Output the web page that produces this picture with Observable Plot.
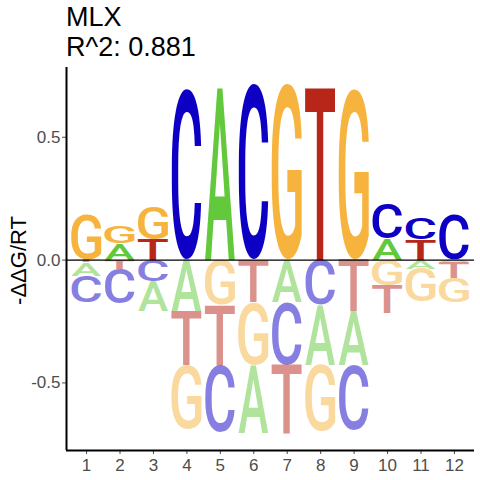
<!DOCTYPE html>
<html>
<head>
<meta charset="utf-8">
<script src="https://cdn.jsdelivr.net/npm/d3@7"></script>
<script src="https://cdn.jsdelivr.net/npm/@observablehq/plot@0.6"></script>
<style>
  html, body { margin: 0; padding: 0; background: #fff; }
  #title { height: 60px; box-sizing: border-box; padding-left: 66px; padding-top: 3.25px;
           font-family: "Liberation Sans", Arial, sans-serif; font-size: 27px; line-height: 29.4px; color: #000; white-space: nowrap; }
  #chart svg { display: block; }
</style>
</head>
<body>
<div id="title"></div>
<div id="chart"></div>
<script>
// ---- data ----
const positions = [1, 2, 3, 4, 5, 6, 7, 8, 9, 10, 11, 12];
const bases = ["A", "C", "G", "T"];
const valA = [-0.055,  0.066, -0.122, -0.210,  0.705, -0.278, -0.173, -0.244, -0.220,  0.088, -0.037, -0.010];
const valC = [-0.108, -0.142, -0.088,  0.691, -0.272,  0.711, -0.254, -0.183, -0.264,  0.142,  0.088,  0.180];
const valG = [ 0.180,  0.069,  0.133, -0.260, -0.183, -0.255,  0.711, -0.270,  0.691, -0.104, -0.135, -0.100];
const valT = [-0.010, -0.037,  0.084, -0.221, -0.245, -0.172, -0.280,  0.705, -0.210, -0.113,  0.081, -0.065];
const yTicks = [-0.5, 0, 0.5];
const titleLines = ["MLX", "R^2: 0.881"];
const yLabel = "-ΔΔG/RT";

const baseColors = {A: "#61C93B", C: "#0D00C4", G: "#F6B43F", T: "#B82619"};
const seriesByBase = {A: valA, C: valC, G: valG, T: valT};

// title
const titleEl = document.getElementById("title");
for (const line of titleLines) {
  const div = document.createElement("div");
  div.textContent = line;
  titleEl.appendChild(div);
}

// build stacked letter boxes: smallest |value| nearest zero
const letters = [];
positions.forEach((p, i) => {
  const vals = bases.map(b => ({base: b, v: seriesByBase[b][i]}));
  let up = 0, down = 0;
  vals.filter(d => d.v > 0).sort((a, b) => a.v - b.v).forEach(d => {
    letters.push({pos: p, base: d.base, y0: up, y1: up + d.v, neg: false}); up += d.v;
  });
  vals.filter(d => d.v < 0).sort((a, b) => b.v - a.v).forEach(d => {
    letters.push({pos: p, base: d.base, y0: down + d.v, y1: down, neg: true}); down += d.v;
  });
});

const letterFont = "Roboto, 'Liberation Sans', Arial, sans-serif";
const letterWeight = 500;
const colWidth = 0.9;

// custom mark: each letter glyph is stretched to fill its stacked box via the plot's x/y scales
function logoMark(index, scales) {
  const {x, y} = scales;
  const g = d3.create("svg:g").attr("aria-label", "logo letters").attr("text-anchor", "start");
  const ctx = document.createElement("canvas").getContext("2d");
  const FS = 100;
  ctx.font = `${letterWeight} ${FS}px ${letterFont}`;
  for (const d of letters) {
    const m = ctx.measureText(d.base);
    const L = m.actualBoundingBoxLeft, R = m.actualBoundingBoxRight;
    const A = m.actualBoundingBoxAscent, D = m.actualBoundingBoxDescent;
    const x0 = x(d.pos - colWidth / 2), x1 = x(d.pos + colWidth / 2);
    const yTop = y(d.y1), yBot = y(d.y0);
    const sx = (x1 - x0) / (L + R), sy = (yBot - yTop) / (A + D);
    g.append("text")
      .attr("transform", `translate(${x0},${yTop}) scale(${sx},${sy}) translate(${L},${A})`)
      .attr("text-anchor", "start")
      .attr("font-family", letterFont)
      .attr("font-weight", letterWeight)
      .attr("font-size", FS)
      .attr("fill", baseColors[d.base])
      .attr("fill-opacity", d.neg ? 0.5 : 1)
      .text(d.base);
  }
  return g.node();
}

const xMin = 0.4, xMax = 12.6, yMin = -0.775, yMax = 0.784;

const chart = Plot.plot({
  width: 480,
  height: 420,
  marginTop: 7,
  marginBottom: 30,
  marginLeft: 66,
  marginRight: 6,
  style: {fontFamily: "'Liberation Sans', Arial, sans-serif", fontSize: "17px", background: "#fff", overflow: "visible"},
  x: {type: "linear", domain: [xMin, xMax]},
  y: {type: "linear", domain: [yMin, yMax]},
  marks: [
    logoMark,
    Plot.ruleY([0], {stroke: "#000", strokeWidth: 1.2}),
    Plot.axisY({ticks: yTicks, tickFormat: d => d.toFixed(1), tickSize: 4, tickPadding: 2, label: null, color: "#4D4D4D", fontSize: 17}),
    Plot.axisX({ticks: positions, tickFormat: d => String(d), tickSize: 4, tickPadding: 4.6, label: null, color: "#4D4D4D", fontSize: 17}),
    Plot.ruleX([xMin], {stroke: "#000", strokeWidth: 2}),
    Plot.ruleY([yMin], {stroke: "#000", strokeWidth: 2}),
    Plot.text([yLabel], {text: d => d, frameAnchor: "left", rotate: -90, dx: -48, dy: 1.5, fontSize: 22, fill: "#000", lineAnchor: "middle", textAnchor: "middle"})
  ]
});
document.getElementById("chart").appendChild(chart);
</script>
</body>
</html>
